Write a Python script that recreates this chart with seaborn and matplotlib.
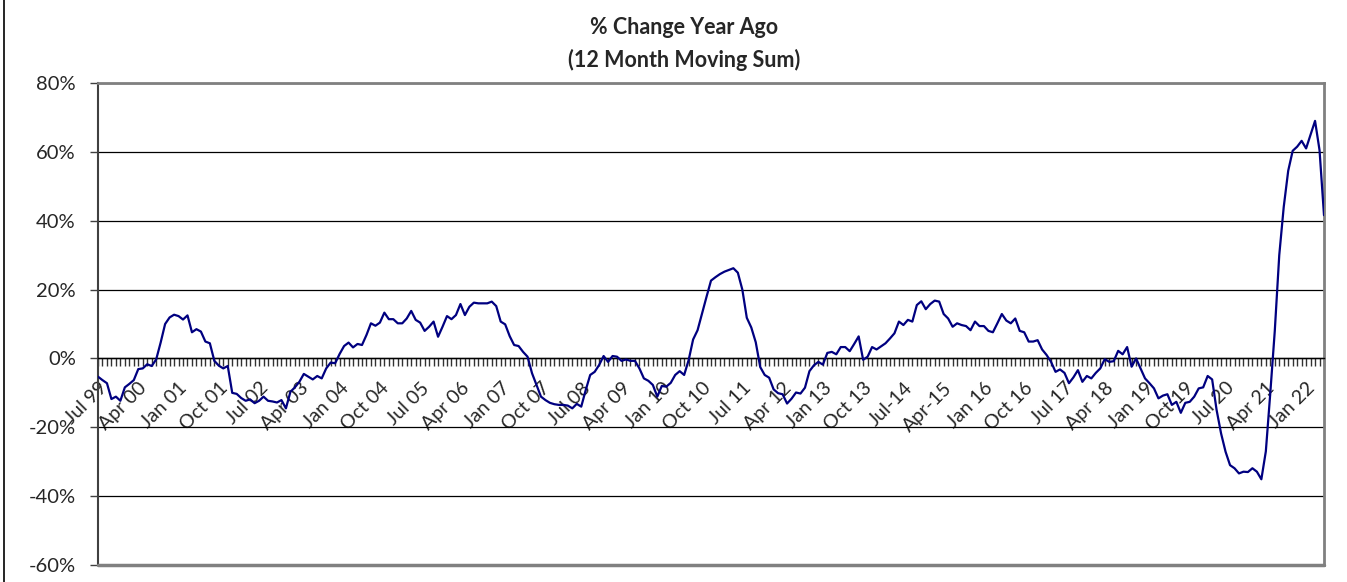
import numpy as np
import pandas as pd
import matplotlib
matplotlib.use("Agg")
import matplotlib.pyplot as plt
import seaborn as sns
from matplotlib.ticker import MultipleLocator, FuncFormatter
from matplotlib.lines import Line2D

# % change vs year ago of the 12 month moving sum, one value per month from Jul 99
mes_inicial = "1999-07-01"
pct_change = [
    -5.3, -6.3, -7.2, -11.8, -11.1, -12.3, -8.4, -7.4, -6.3, -3.1, -2.9, -1.7,
    -2.2, -0.3, 4.6, 10.0, 11.9, 12.7, 12.3, 11.3, 12.5, 7.6, 8.5, 7.8,
    4.9, 4.4, -0.7, -2.1, -2.9, -2.2, -10.0, -10.3, -11.5, -12.3, -11.9, -13.0,
    -12.3, -11.1, -12.3, -12.5, -12.8, -12.1, -14.5, -9.7, -8.4, -6.8, -4.5, -5.3,
    -6.1, -5.1, -5.8, -2.9, -1.2, -1.4, 1.3, 3.6, 4.6, 3.2, 4.2, 3.9,
    6.8, 10.2, 9.5, 10.4, 13.3, 11.4, 11.4, 10.2, 10.2, 11.6, 13.8, 11.2,
    10.4, 8.0, 9.2, 10.7, 6.3, 9.2, 12.3, 11.4, 12.6, 15.8, 12.6, 15.0,
    16.2, 16.0, 16.0, 16.0, 16.5, 15.2, 10.7, 9.9, 6.5, 3.9, 3.6, 1.9,
    0.5, -4.3, -7.7, -11.1, -12.1, -12.9, -13.3, -13.5, -13.5, -13.7, -14.5, -13.2,
    -14.0, -9.2, -4.8, -3.9, -1.9, 0.7, -1.0, 0.7, 0.5, -0.7, -0.3, -0.7,
    -0.7, -2.9, -5.8, -6.5, -7.7, -11.1, -8.0, -8.2, -7.1, -4.8, -3.7, -4.8,
    -0.5, 5.5, 8.2, 13.1, 17.9, 22.6, 23.6, 24.5, 25.2, 25.7, 26.2, 24.9,
    20.0, 11.8, 9.0, 4.7, -2.5, -4.8, -5.6, -9.0, -10.1, -10.4, -13.1, -11.7,
    -9.9, -10.2, -8.5, -3.7, -2.0, -1.0, -1.8, 1.6, 1.9, 1.2, 3.3, 3.3,
    2.1, 4.2, 6.4, -0.4, 0.5, 3.3, 2.6, 3.5, 4.4, 5.8, 7.3, 10.7,
    9.7, 11.2, 10.7, 15.5, 16.6, 14.3, 15.8, 16.8, 16.5, 12.9, 11.6, 9.2,
    10.2, 9.7, 9.4, 8.2, 10.7, 9.4, 9.4, 8.0, 7.6, 10.2, 12.9, 11.0,
    10.2, 11.6, 8.0, 7.6, 4.9, 4.9, 5.3, 2.6, 1.0, -1.0, -3.9, -3.2,
    -4.2, -7.2, -5.5, -3.4, -6.8, -5.1, -5.8, -4.2, -2.9, -0.2, -1.0, -0.8,
    2.2, 1.2, 3.3, -2.4, 0.0, -2.9, -5.8, -7.2, -8.7, -11.6, -10.8, -10.4,
    -13.5, -12.6, -15.8, -12.9, -12.6, -11.1, -8.7, -8.4, -5.1, -6.1, -15.0, -21.8,
    -27.1, -31.0, -31.9, -33.4, -32.9, -33.0, -31.9, -32.9, -35.1, -27.0, -10.0, 8.0,
    30.0, 44.0, 54.5, 60.3, 61.5, 63.2, 61.0, 65.0, 69.0, 60.5, 41.6,
]

# eixo de categorias: um rótulo a cada 9 meses
tick_labels = [
    "Jul 99", "Apr 00", "Jan 01", "Oct 01", "Jul 02", "Apr 03", "Jan 04", "Oct 04",
    "Jul 05", "Apr 06", "Jan 07", "Oct 07", "Jul 08", "Apr 09", "Jan 10", "Oct 10",
    "Jul 11", "Apr 12", "Jan 13", "Oct 13", "Jul-14", "Apr-15", "Jan 16", "Oct 16",
    "Jul 17", "Apr 18", "Jan 19", "Oct 19", "Jul 20", "Apr 21", "Jan 22",
]
passo_rotulo = 9
y_ticks = [-60, -40, -20, 0, 20, 40, 60, 80]

df = pd.DataFrame({
    "mes": pd.date_range(mes_inicial, periods=len(pct_change), freq="MS"),
    "pct": pct_change,
})
df["pos"] = np.arange(len(df))

sns.set_style("white")
plt.rcParams["font.family"] = ["Lato", "DejaVu Sans"]

fig = plt.figure(figsize=(13.47, 5.82), dpi=100)
ax = fig.add_axes([98 / 1347, 1 - 565 / 582, 1226 / 1347, 482 / 582])

sns.lineplot(data=df, x="pos", y="pct", color="#000080", linewidth=1.6, ax=ax, zorder=5)

ax.set_xlim(0, len(df) - 1)
ax.set_ylim(-60, 80)
ax.set_yticks(y_ticks)
ax.yaxis.set_major_formatter(FuncFormatter(lambda v, p: f"{v:.0f}%"))
ax.yaxis.grid(True, color="black", linewidth=0.9)
ax.xaxis.grid(False)
ax.set_xlabel("")
ax.set_ylabel("")

# eixo x cruzando no zero, com marca em todo mês
ax.spines["bottom"].set_position(("data", 0))
ax.spines["bottom"].set_color("black")
ax.spines["bottom"].set_linewidth(1.0)
ax.spines["bottom"].set_zorder(4)
ax.xaxis.set_minor_locator(MultipleLocator(1))
ax.set_xticks(range(0, len(df), passo_rotulo)[:len(tick_labels)])
ax.set_xticklabels(tick_labels, rotation=45, ha="right", va="top",
                   rotation_mode="anchor", fontsize=14)
ax.tick_params(axis="x", which="both", direction="out", length=6, width=1,
               color="#333333", pad=9, bottom=True)

ax.tick_params(axis="y", direction="out", length=6, width=1, color="#404040",
               labelsize=14.5, pad=10, left=True)

for lado in ["top", "right"]:
    ax.spines[lado].set_color("#808080")
    ax.spines[lado].set_linewidth(2)
ax.spines["left"].set_color("#404040")
ax.spines["left"].set_linewidth(1.5)
ax.axhline(-60, color="#808080", linewidth=2.5, clip_on=False, zorder=6)

fig.text(0.508, 1 - 28 / 582, "% Change Year Ago", ha="center", va="center",
         fontsize=15.5, fontweight="bold")
fig.text(0.508, 1 - 60 / 582, "(12 Month Moving Sum)", ha="center", va="center",
         fontsize=15.5, fontweight="bold")

# borda da área do gráfico (só a esquerda aparece no recorte)
fig.add_artist(Line2D([4 / 1347, 4 / 1347], [0, 1], transform=fig.transFigure,
                      color="black", linewidth=1.2))

fig.savefig("out.png", dpi=100)
